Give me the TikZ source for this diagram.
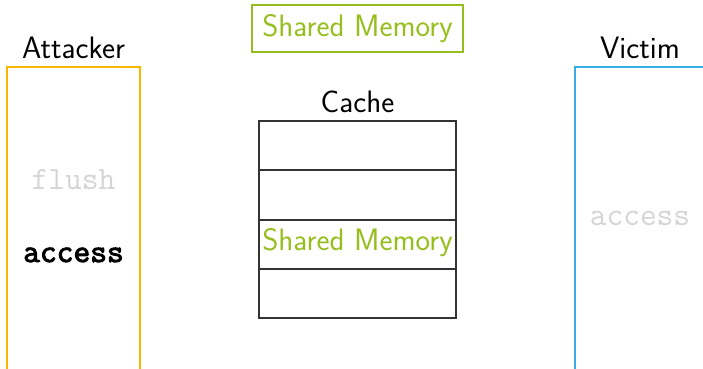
\documentclass[tikz,border=0pt]{standalone}
\usepackage{fontspec}
\newfontfamily\boldmono{Latin Modern Mono}[FakeBold=3]
\definecolor{attcol}{RGB}{248,184,0}
\definecolor{viccol}{RGB}{58,174,228}
\definecolor{shgreen}{RGB}{150,190,30}
\definecolor{faint}{RGB}{212,212,212}
\tikzset{
  big/.style={font=\sffamily\fontsize{31}{36}\selectfont, inner sep=0pt},
  code/.style={font=\ttfamily\fontsize{32.5}{38}\selectfont, inner sep=0pt},
  boldcode/.style={font=\boldmono\fontsize{32.5}{38}\selectfont, inner sep=0pt},
  party/.style={line width=2pt},
  cacheline/.style={line width=1.2pt, draw=black!80},
}
\begin{document}
\begin{tikzpicture}[x=1pt,y=-1pt]
\useasboundingbox (0,0) rectangle (703,368);
% shared memory box
\node[big, text=shgreen, anchor=base] (shm) at (357.5,36) {Shared Memory};
\draw[shgreen, line width=2pt] (252,5) rectangle (463,52);
% attacker
\node[big, anchor=base] (att) at (73.5,58) {Attacker};
\draw[party, attcol] (7,400) -- (7,67) -- (140,67) -- (140,400);
\node[code, text=faint, anchor=base] (flush) at (73.5,189) {flush};
\node[boldcode, anchor=base] (acc) at (73.5,262) {access};
% victim
\node[big, anchor=base] (vic) at (640,58) {Victim};
\draw[party, viccol] (575,400) -- (575,67) -- (720,67);
\node[code, text=faint, anchor=base] (vacc) at (640,225) {access};
% cache
\node[big, anchor=base] (cache) at (357.5,112) {Cache};
\draw[cacheline] (259,121) rectangle (456,318);
\draw[cacheline] (259,170) -- (456,170);
\draw[cacheline] (259,220) -- (456,220);
\draw[cacheline] (259,269) -- (456,269);
\node[big, text=shgreen, anchor=base] (row) at (357.5,250) {Shared Memory};
\end{tikzpicture}
\end{document}
